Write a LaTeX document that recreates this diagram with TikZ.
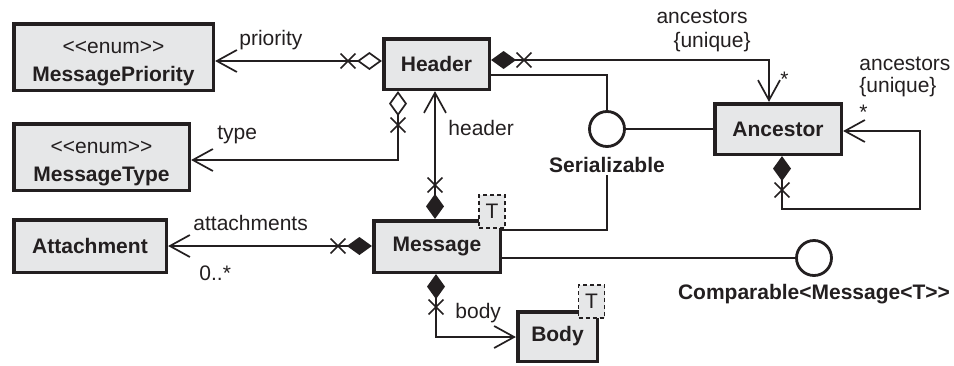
\documentclass[tikz,border=0pt]{standalone}
\usepackage{fontspec}
\setmainfont{Liberation Sans}
\usetikzlibrary{arrows.meta}
\definecolor{ink}{RGB}{35,31,32}
\definecolor{boxfill}{RGB}{230,231,232}
\newcommand\diagfont{\fontsize{10.5}{14}\selectfont}
\tikzset{
  cls/.style={draw=ink, fill=boxfill, line width=1.8pt, inner sep=0pt, text=ink,
    font=\diagfont\bfseries, align=center},
  tbox/.style={draw=ink, fill=boxfill, line width=0.9pt, dash pattern=on 2pt off 1.5pt,
    minimum width=13pt, minimum height=16.5pt, inner sep=0pt, text=ink, font=\diagfont},
  conn/.style={draw=ink, line width=0.85pt},
  iface/.style={circle, draw=ink, line width=1.4pt, fill=white, minimum size=17.5pt, inner sep=0pt},
  lbl/.style={inner sep=0pt, text=ink, font=\diagfont},
  blbl/.style={inner sep=1pt, text=ink, font=\diagfont\bfseries},
  xm/.pic={\draw[ink, line width=0.85pt] (-3.7pt,-3.7pt) -- (3.7pt,3.7pt) (-3.7pt,3.7pt) -- (3.7pt,-3.7pt);},
  odia/.tip={Diamond[open,length=12.5pt,width=9pt]},
  fdia/.tip={Diamond[length=12.5pt,width=9pt]},
  barb/.tip={Straight Barb[length=10pt,width=11pt]},
}
\begin{document}
\begin{tikzpicture}[x=0.5pt,y=-0.5pt,font=\diagfont]
\useasboundingbox (0,0) rectangle (954,365);

% classes
\node[cls, minimum width=99.8pt, minimum height=33.3pt] (mp) at (113.5,57) {{\mdseries\rule{0pt}{12.7pt}<{}<enum>{}>}\\MessagePriority};
\node[cls, minimum width=87.8pt, minimum height=33.3pt] (mt) at (101.5,157) {{\mdseries\rule{0pt}{12.7pt}<{}<enum>{}>}\\MessageType};
\node[cls, minimum width=52.8pt, minimum height=25.3pt] (hdr) at (436.5,64) {Header};
\node[cls, minimum width=63.3pt, minimum height=25.3pt] (anc) at (778,129) {Ancestor};
\node[cls, minimum width=76.3pt, minimum height=26.3pt] (att) at (90,246) {Attachment};
\node[cls, minimum width=63.3pt, minimum height=25.8pt] (msg) at (437,246.5) {Message};
\node[cls, minimum width=39.8pt, minimum height=24.8pt] (body) at (557.5,336.5) {Body};
\node[tbox] (msgT) at (492,211.5) {T};
\node[tbox] (bodyT) at (591.5,301.5) {T};

% interfaces
\node[iface] (ser) at (607,129) {};
\node[iface] (comp) at (814,258) {};
\node[blbl, anchor=base] (serl) at (607,172) {Serializable};
\node[blbl, anchor=base] (compl) at (814,299) {Comparable<Message<T>{}>};

% labels
\node[lbl, anchor=base west] (lprio) at (239,45) {priority};
\node[lbl, anchor=base west] (ltype) at (217,139) {type};
\node[lbl, anchor=base west] (lhead) at (448,135) {header};
\node[lbl, anchor=base east] (lanca) at (748,23) {ancestors};
\node[lbl, anchor=base east] (lancau) at (751,47) {\{unique\}};
\node[lbl, anchor=base west] (lstara) at (780,86) {*};
\node[lbl, anchor=base west] (lancb) at (859,70) {ancestors};
\node[lbl, anchor=base west] (lancbu) at (859,92) {\{unique\}};
\node[lbl, anchor=base west] (lstarb) at (859,119) {*};
\node[lbl, anchor=base west] (latt) at (193,230) {attachments};
\node[lbl, anchor=base west] (lmult) at (199,280) {0..*};
\node[lbl, anchor=base west] (lbody) at (455,318) {body};

% connectors
\draw[conn, odia-barb] (hdr.west |- 0,61) -- (mp.east |- 0,61);
\pic at (348,61) {xm};
\draw[conn, odia-barb] (hdr.south -| 398,0) -- (398,160) -- (mt.east |- 0,160);
\pic at (398,125) {xm};
\draw[conn, fdia-barb] (msg.north -| 435,0) -- (hdr.south -| 435,0);
\pic at (435,185) {xm};
\draw[conn, fdia-barb] (hdr.east |- 0,60) -- (769,60) -- (anc.north -| 769,0);
\pic at (524,60) {xm};
\draw[conn] (hdr.east |- 0,75) -- (607,75) -- (ser.north);
\draw[conn] (ser.east) -- (anc.west |- ser.east);
\draw[conn] (msg.east |- 0,230) -- (607,230) -- (serl.south);
\draw[conn] (msg.east |- comp.west) -- (comp.west);
\draw[conn, fdia-barb] (anc.south -| 782,0) -- (782,209) -- (920,209) -- (920,131) -- (anc.east |- 0,131);
\pic at (782,190) {xm};
\draw[conn, fdia-barb] (msg.west |- 0,246) -- (att.east |- 0,246);
\pic at (338,246) {xm};
\draw[conn, fdia-barb] (msg.south -| 436,0) -- (436,337) -- (body.west |- 0,337);
\pic at (436,307) {xm};
\end{tikzpicture}
\end{document}
